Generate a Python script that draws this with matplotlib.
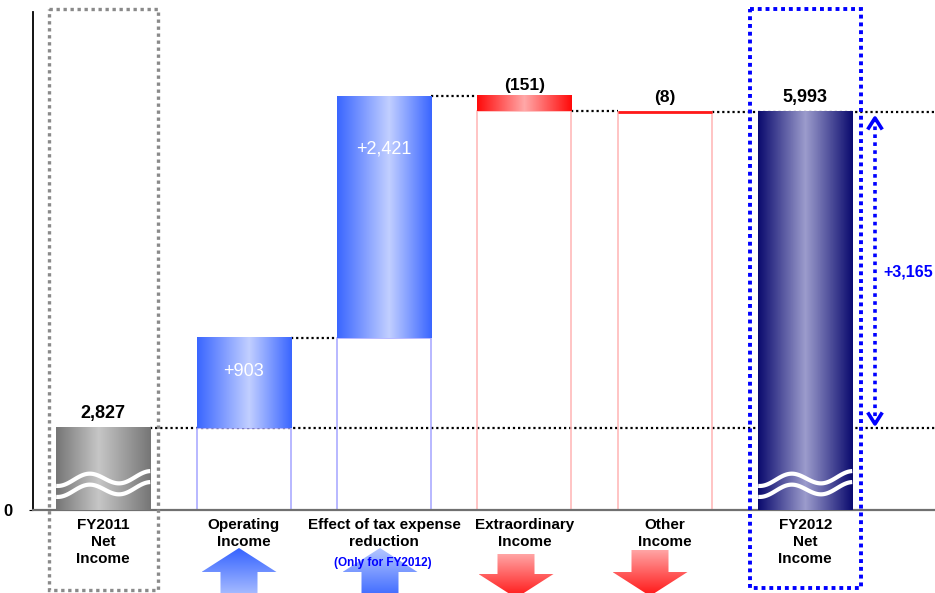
import numpy as np
import matplotlib
matplotlib.use("Agg")
import matplotlib.pyplot as plt
import matplotlib.patches as mpatches
from matplotlib.colors import LinearSegmentedColormap

plt.rcParams["font.family"] = ["Liberation Sans", "DejaVu Sans"]

# data
categories = ["FY2011\nNet\nIncome", "Operating\nIncome", "Effect of tax expense\nreduction",
              "Extraordinary\nIncome", "Other\nIncome", "FY2012\nNet\nIncome"]
start_value = 2827
deltas = [903, 2421, -151, -8]
end_value = 5993
delta_labels = ["+903", "+2,421", "(151)", "(8)"]
total_change_label = "+3,165"

# axis floor (broken axis: shown as 0)
y_floor = 2005
y_top = 6995
bar_w = 0.67

W, H = 935, 593
fig = plt.figure(figsize=(W / 100, H / 100), dpi=100)
ax = fig.add_axes([33 / W, 83 / H, (W - 33) / W, 498 / H])
ax.set_xlim(-0.5, -0.5 + (W - 33) / 140.4)
ax.set_ylim(y_floor, y_top)
for s in ["top", "right"]:
    ax.spines[s].set_visible(False)
ax.spines["left"].set_color("black")
ax.spines["left"].set_linewidth(1.3)
ax.spines["bottom"].set_color("#707070")
ax.spines["bottom"].set_linewidth(1.6)
ax.set_yticks([y_floor])
ax.set_yticklabels(["0"], fontsize=12, fontweight="bold")
ax.tick_params(axis="y", length=3, pad=12)
ax.set_xticks(range(len(categories)))
ax.set_xticklabels(categories, fontsize=11, fontweight="bold", linespacing=1.25)
ax.tick_params(axis="x", length=0, pad=6)


def grad_cmap(edge, mid, pos=0.5):
    return LinearSegmentedColormap.from_list("g", [(0, edge), (pos, mid), (1, edge)])


def grad_bar(x, y0, y1, cmap, z=3):
    g = np.linspace(0, 1, 200).reshape(1, -1)
    ax.imshow(g, cmap=cmap, aspect="auto", interpolation="bilinear",
              extent=[x - bar_w / 2, x + bar_w / 2, y0, y1], zorder=z)


gray_cm = grad_cmap("#767676", "#c6c6c6", 0.45)
blue_cm = grad_cmap("#3a66ff", "#c2cfff", 0.55)
red_cm = grad_cmap("#ff0a0a", "#ffa8a8", 0.5)
navy_cm = grad_cmap("#0b0b6e", "#9c9ccc", 0.5)

# running totals
levels = [start_value]
for d in deltas:
    levels.append(levels[-1] + d)

# connector lines
dot = (0, (1, 1.3))
xmax = ax.get_xlim()[1]
ax.hlines(start_value, 0 + bar_w / 2, xmax, colors="black", linestyles=[dot], lw=1.6, zorder=1)
for i in range(1, 4):
    ax.hlines(levels[i], i + bar_w / 2, i + 1 - bar_w / 2, colors="black",
              linestyles=[dot], lw=1.6, zorder=1)
ax.hlines(end_value, 4 + bar_w / 2, xmax, colors="black", linestyles=[dot], lw=1.6, zorder=1)

# start / end bars
grad_bar(0, y_floor, start_value, gray_cm)
grad_bar(5, y_floor, end_value, navy_cm)

# floating bars + ghost bars
for i, d in enumerate(deltas):
    x = i + 1
    lo, hi = sorted([levels[i], levels[i + 1]])
    ghost_col = "#a4a4ff" if d > 0 else "#ffb4b4"
    ax.add_patch(mpatches.Rectangle((x - bar_w / 2, y_floor), bar_w, lo - y_floor,
                                    fill=False, edgecolor=ghost_col, lw=1.1, zorder=2))
    if d > 0:
        grad_bar(x, lo, hi, blue_cm)
    else:
        if hi - lo < 30:
            ax.hlines(lo + (hi - lo) / 2, x - bar_w / 2, x + bar_w / 2, colors="#ff1a1a", lw=2, zorder=3)
        else:
            grad_bar(x, lo, hi, red_cm)

# break marks on the start / end bars
t = np.linspace(0, 1, 100)
wave = np.cos(2 * np.pi * (t - 0.35) / 0.65) * 55
for x in [0, 5]:
    xs = x - bar_w / 2 + t * bar_w
    for base in [2300, 2190]:
        ax.plot(xs, base + wave + t * 40, color="white", lw=3, zorder=4, solid_capstyle="butt")

# value labels
ax.annotate(f"{start_value:,}", (0, start_value), xytext=(0, 4), textcoords="offset points",
            ha="center", va="bottom", fontsize=13, fontweight="bold", zorder=5)
ax.annotate(f"{end_value:,}", (5, end_value), xytext=(0, 4), textcoords="offset points",
            ha="center", va="bottom", fontsize=13, fontweight="bold", zorder=5)
inside_pos = [0.63, 0.78]
for i in range(2):
    y = levels[i] + deltas[i] * inside_pos[i]
    ax.text(i + 1, y, delta_labels[i], ha="center", va="center", color="white",
            fontsize=13, zorder=5)
ax.annotate(delta_labels[2], (3, levels[2]), xytext=(0, 2), textcoords="offset points",
            ha="center", va="bottom", fontsize=12.5, fontweight="bold", zorder=5)
ax.annotate(delta_labels[3], (4, levels[4]), xytext=(0, 5), textcoords="offset points",
            ha="center", va="bottom", fontsize=12.5, fontweight="bold", zorder=5)

# total change arrow
xa = 5.497
ax.plot([xa, xa], [start_value + 40, end_value - 60], color="#0000ff", lw=2.6,
        linestyle=(0, (1, 1.2)), zorder=4)
for yy, s in [(end_value - 60, -1), (start_value + 40, 1)]:
    ax.plot([xa - 0.045, xa, xa + 0.045], [yy + s * 100, yy, yy + s * 100],
            color="#0000ff", lw=2.6, zorder=4)
ax.text(xa + 0.06, (start_value + end_value) / 2 - 20, total_change_label, color="#0000ff",
        fontsize=11.5, fontweight="bold", va="center", ha="left")

# overlay in pixel coordinates for frames and direction arrows
ov = fig.add_axes([0, 0, 1, 1], zorder=5)
ov.set_xlim(0, W)
ov.set_ylim(H, 0)
ov.axis("off")
ov.patch.set_alpha(0)

ov.add_patch(mpatches.Rectangle((49, 9), 109, 581, fill=False, edgecolor="#8a8a8a",
                                lw=2.4, linestyle=(0, (1, 1.1))))
ov.add_patch(mpatches.Rectangle((750, 9), 111, 579, fill=False, edgecolor="#0000ff",
                                lw=2.8, linestyle=(0, (1, 1.0))))


def block_arrow(cx, y_tail, y_head_base, y_tip, top_col, bot_col):
    hw_shaft, hw_head = 18.5, 37.5
    verts = [(cx - hw_shaft, y_tail), (cx + hw_shaft, y_tail), (cx + hw_shaft, y_head_base),
             (cx + hw_head, y_head_base), (cx, y_tip), (cx - hw_head, y_head_base),
             (cx - hw_shaft, y_head_base), (cx - hw_shaft, y_tail)]
    poly = mpatches.Polygon(verts, closed=True, facecolor="none", edgecolor="none")
    ov.add_patch(poly)
    cm = LinearSegmentedColormap.from_list("a", [top_col, bot_col])
    g = np.linspace(0, 1, 100).reshape(-1, 1)
    y0, y1 = min(y_tail, y_tip), max(y_tail, y_tip)
    im = ov.imshow(g, cmap=cm, aspect="auto", extent=[cx - hw_head, cx + hw_head, y1, y0],
                   interpolation="bilinear")
    im.set_clip_path(poly)


block_arrow(239, 600, 572, 548, "#3563ff", "#b4c6ff")
block_arrow(380, 600, 572, 548, "#b4c6ff", "#3563ff")
block_arrow(516, 554, 574, 598, "#ffa4a4", "#ff1515")
block_arrow(650, 550, 572, 596, "#ffa4a4", "#ff1515")
ov.set_xlim(0, W)
ov.set_ylim(H, 0)

ov.text(383, 563, "(Only for FY2012)", color="#0000ff", fontsize=8.5, fontweight="bold",
        ha="center", va="center")

ax.set_xlim(-0.5, xmax)
ax.set_ylim(y_floor, y_top)

fig.savefig("out.png", dpi=100)
